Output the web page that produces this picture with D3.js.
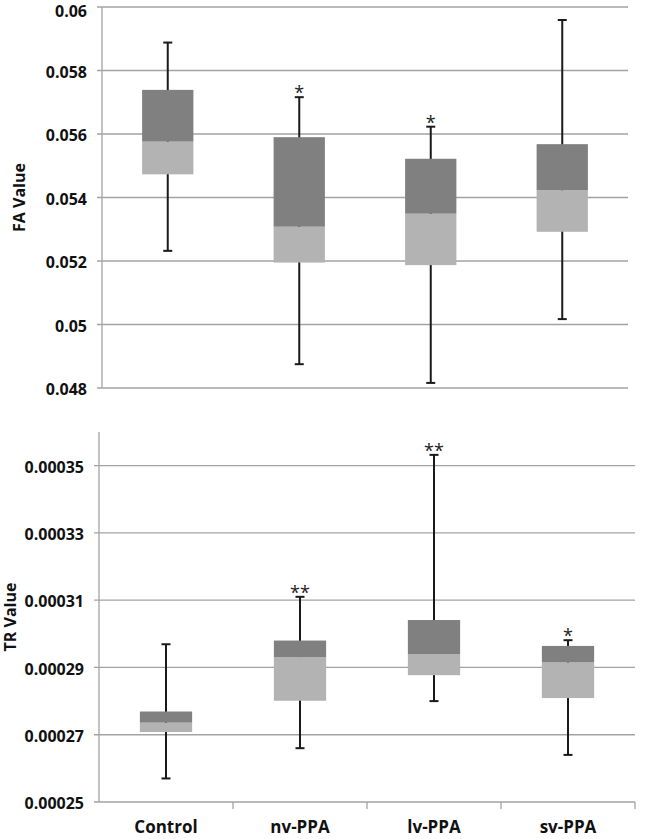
<!DOCTYPE html>
<html>
<head>
<meta charset="utf-8">
<script src="https://cdn.jsdelivr.net/npm/d3@7"></script>
<style>
  body { margin: 0; background: #fff; }
  text { font-family: "Open Sans", "Noto Sans", sans-serif; font-weight: 700; fill: #111; }
</style>
</head>
<body>
<svg id="chart" width="664" height="839"></svg>
<script>
// ---- Data ----
const categories = ["Control", "nv-PPA", "lv-PPA", "sv-PPA"];

const faMin    = [0.05232, 0.04875, 0.04816, 0.05017];
const faQ1     = [0.05473, 0.05195, 0.05187, 0.05292];
const faMedian = [0.05576, 0.05308, 0.05349, 0.05423];
const faQ3     = [0.05739, 0.05590, 0.05522, 0.05568];
const faMax    = [0.05888, 0.05716, 0.05623, 0.05959];
const faSig    = ["", "*", "*", ""];
const faTicks  = [0.048, 0.05, 0.052, 0.054, 0.056, 0.058, 0.06];

const trMin    = [0.0002570, 0.0002660, 0.0002800, 0.0002640];
const trQ1     = [0.0002708, 0.0002801, 0.0002877, 0.0002809];
const trMedian = [0.0002736, 0.0002931, 0.0002940, 0.0002915];
const trQ3     = [0.0002769, 0.0002980, 0.0003041, 0.0002964];
const trMax    = [0.0002969, 0.0003110, 0.0003532, 0.0002981];
const trSig    = ["", "**", "**", "*"];
const trTicks  = [0.00025, 0.00027, 0.00029, 0.00031, 0.00033, 0.00035];

const DARK = "#808080", LIGHT = "#b3b3b3", GRID = "#a3a3a3";

const svg = d3.select("#chart");

function panel(opts) {
  const g = svg.append("g");
  const x = d3.scaleBand().domain(categories).range([opts.left, opts.right]);
  const y = d3.scaleLinear().domain(opts.domain).range([opts.bottom, opts.top]);

  // gridlines with little left ticks
  g.selectAll(".grid").data(opts.ticks).join("line")
    .attr("x1", opts.left - 5).attr("x2", opts.right)
    .attr("y1", d => y(d)).attr("y2", d => y(d))
    .attr("stroke", GRID).attr("stroke-width", 1.3);

  // y axis line
  g.append("line")
    .attr("x1", opts.left).attr("x2", opts.left)
    .attr("y1", opts.top).attr("y2", opts.bottom)
    .attr("stroke", GRID).attr("stroke-width", 1.3);

  // y tick labels (kept inside the page at the very top)
  g.selectAll(".ylab").data(opts.ticks).join("text")
    .attr("x", opts.left - 15).attr("y", d => Math.max(y(d), 10))
    .attr("dy", "0.45em")
    .attr("text-anchor", "end")
    .style("font-size", "16px")
    .text(d => String(d));

  // axis title
  g.append("text")
    .attr("transform", `translate(${opts.titleX},${(opts.top + opts.bottom) / 2}) rotate(-90)`)
    .attr("text-anchor", "middle")
    .attr("dy", "0.35em")
    .style("font-size", "16px")
    .text(opts.title);

  const bw = x.bandwidth() * 0.39;
  const cx = d => x(d) + x.bandwidth() / 2;

  // whiskers
  g.selectAll(".whisk").data(categories).join("line")
    .attr("x1", cx).attr("x2", cx)
    .attr("y1", (d, i) => y(opts.min[i])).attr("y2", (d, i) => y(opts.max[i]))
    .attr("stroke", "#1a1a1a").attr("stroke-width", 2);
  ["min", "max"].forEach(k => {
    g.selectAll(".cap-" + k).data(categories).join("line")
      .attr("x1", d => cx(d) - 4.5).attr("x2", d => cx(d) + 4.5)
      .attr("y1", (d, i) => y(opts[k][i])).attr("y2", (d, i) => y(opts[k][i]))
      .attr("stroke", "#1a1a1a").attr("stroke-width", 2);
  });

  // lower box (Q1 -> median) light, upper box (median -> Q3) dark
  g.selectAll(".lo").data(categories).join("rect")
    .attr("x", d => cx(d) - bw / 2).attr("width", bw)
    .attr("y", (d, i) => y(opts.med[i]))
    .attr("height", (d, i) => y(opts.q1[i]) - y(opts.med[i]))
    .attr("fill", LIGHT);
  g.selectAll(".hi").data(categories).join("rect")
    .attr("x", d => cx(d) - bw / 2).attr("width", bw)
    .attr("y", (d, i) => y(opts.q3[i]))
    .attr("height", (d, i) => y(opts.med[i]) - y(opts.q3[i]))
    .attr("fill", DARK);

  // significance stars
  g.selectAll(".sig").data(categories).join("text")
    .attr("x", cx)
    .attr("y", (d, i) => y(opts.max[i]) + 2)
    .attr("text-anchor", "middle")
    .style("font-size", "18px").style("font-weight", "400").style("fill", "#222")
    .text((d, i) => opts.sig[i]);

  return { g, x, y };
}

panel({
  left: 102, right: 628, top: 7, bottom: 388,
  domain: [0.048, 0.06], ticks: faTicks, titleX: 19, title: "FA Value",
  min: faMin, q1: faQ1, med: faMedian, q3: faQ3, max: faMax, sig: faSig
});

const bottom = panel({
  left: 99, right: 635, top: 432, bottom: 802,
  domain: [0.00025, 0.00036], ticks: trTicks, titleX: 10, title: "TR Value",
  min: trMin, q1: trQ1, med: trMedian, q3: trQ3, max: trMax, sig: trSig
});

// ---- x axis (bottom panel) ----
const xb = bottom.x;
const bounds = categories.map(c => xb(c) + xb.bandwidth());
bottom.g.selectAll(".xtick").data(bounds).join("line")
  .attr("x1", d => d).attr("x2", d => d)
  .attr("y1", 802).attr("y2", 809)
  .attr("stroke", GRID).attr("stroke-width", 1.3);

bottom.g.selectAll(".xlab").data(categories).join("text")
  .attr("x", d => xb(d) + xb.bandwidth() / 2)
  .attr("y", 833)
  .attr("text-anchor", "middle")
  .style("font-size", "17px")
  .text(d => d);
</script>
</body>
</html>
